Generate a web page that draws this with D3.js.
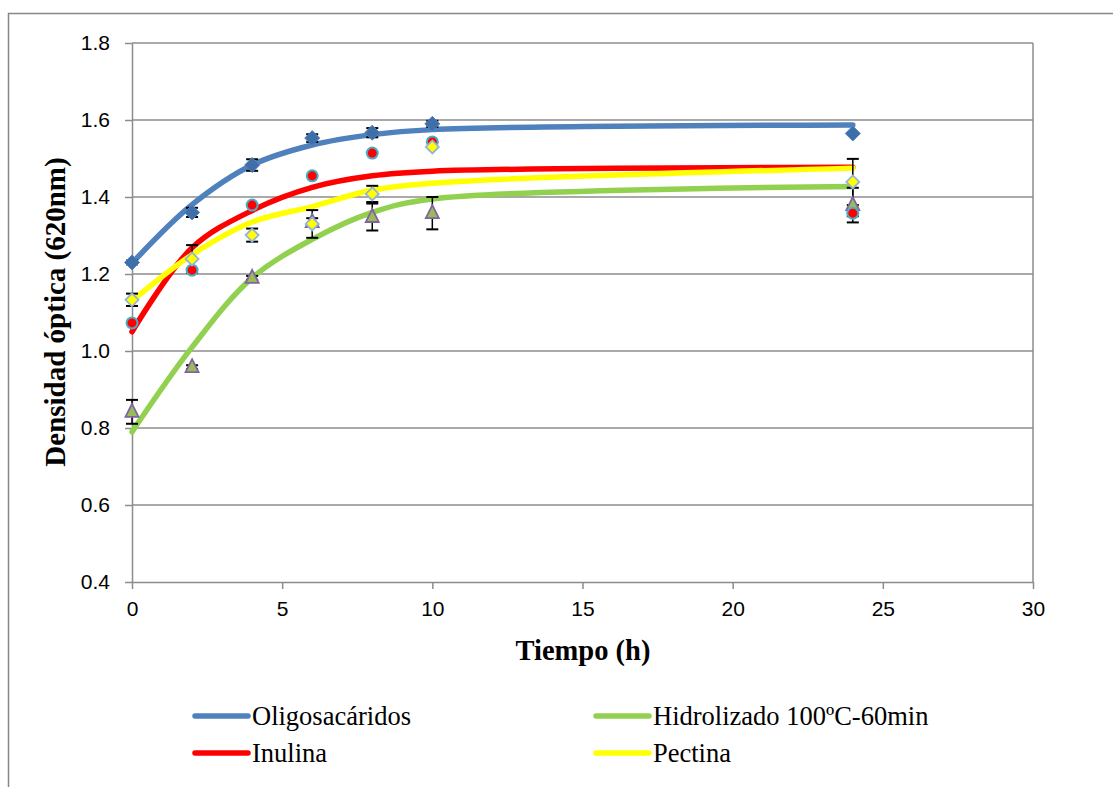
<!DOCTYPE html>
<html>
<head>
<meta charset="utf-8">
<script src="https://cdn.jsdelivr.net/npm/d3@7"></script>
<style>
  body { margin: 0; background: #fff; }
  svg text { fill: #000; }
</style>
</head>
<body>
<div id="chart"></div>
<script>
// Sample times (h)
const times = [0, 2, 4, 6, 8, 10, 24];

// Measured values and error bars
const oligo = [1.23, 1.36, 1.483, 1.553, 1.567, 1.59, 1.565];
const oligoErr = [0.005, 0.012, 0.015, 0.01, 0.012, 0.008, 0];
const hidro = [0.842, 0.958, 1.19, 1.335, 1.348, 1.358, 1.379];
const hidroErr = [0.031, 0.005, 0.005, 0.01, 0.035, 0.042, 0.045];
const inulina = [1.073, 1.21, 1.379, 1.455, 1.514, 1.543, 1.358];
const inulinaErr = [0, 0, 0, 0, 0, 0, 0.008];
const pectina = [1.133, 1.239, 1.301, 1.33, 1.408, 1.53, 1.439];
const pectinaErr = [0.016, 0.036, 0.017, 0.036, 0.021, 0, 0.06];

// Fitted curves
const oligoFit = [1.228, 1.38, 1.483, 1.535, 1.562, 1.575, 1.587];
const hidroFit = [0.79, 1.01, 1.19, 1.29, 1.36, 1.395, 1.427];
const inulinaFit = [1.05, 1.268, 1.365, 1.425, 1.455, 1.467, 1.477];
const pectinaFit = [1.13, 1.25, 1.335, 1.375, 1.418, 1.436, 1.475];

const seriesNames = ["Oligosacáridos", "Hidrolizado 100ºC-60min", "Inulina", "Pectina"];
const xTicks = [0, 5, 10, 15, 20, 25, 30];
const yTicks = [0.4, 0.6, 0.8, 1.0, 1.2, 1.4, 1.6, 1.8];

const series = [
    { name: seriesNames[0], vals: oligo, err: oligoErr, fit: oligoFit, color: "#4f81bd", marker: "diamond" },
    { name: seriesNames[1], vals: hidro, err: hidroErr, fit: hidroFit, color: "#92d050", marker: "triangle" },
    { name: seriesNames[2], vals: inulina, err: inulinaErr, fit: inulinaFit, color: "#ff0000", marker: "circle" },
    { name: seriesNames[3], vals: pectina, err: pectinaErr, fit: pectinaFit, color: "#ffff00", marker: "odiamond" }
];

const width = 1113, height = 787;
const margin = { top: 43, right: 80, bottom: 205, left: 132 };
const plotW = 1033 - margin.left;
const plotH = 582 - margin.top;

const svg = d3.select("#chart")
    .append("svg")
    .attr("width", width)
    .attr("height", height);

// outer chart border
svg.append("rect")
    .attr("x", 8.5).attr("y", 13.5)
    .attr("width", 1120).attr("height", 800)
    .attr("fill", "none")
    .attr("stroke", "#868686")
    .attr("stroke-width", 1.5);

const g = svg.append("g")
    .attr("transform", `translate(${margin.left},${margin.top})`);

const x = d3.scaleLinear().domain([0, 30]).range([0, plotW]);
const y = d3.scaleLinear().domain([0.4, 1.8]).range([plotH, 0]);

// gridlines
g.selectAll(".grid")
    .data(yTicks.slice(1))
    .enter()
    .append("line")
    .attr("x1", 0).attr("x2", plotW)
    .attr("y1", d => y(d)).attr("y2", d => y(d))
    .attr("stroke", "#8c8c8c")
    .attr("stroke-width", 1.5);

// right border of plot area
g.append("line")
    .attr("x1", plotW).attr("x2", plotW)
    .attr("y1", 0).attr("y2", plotH)
    .attr("stroke", "#8c8c8c")
    .attr("stroke-width", 1.5);

// axes
const xAxis = g.append("g")
    .attr("transform", `translate(0,${plotH})`)
    .call(d3.axisBottom(x).tickValues(xTicks).tickSize(7).tickSizeOuter(0).tickPadding(12));
const yAxis = g.append("g")
    .call(d3.axisLeft(y).tickValues(yTicks).tickFormat(d3.format(".1f")).tickSize(7).tickSizeOuter(0).tickPadding(15));

[xAxis, yAxis].forEach(a => {
    a.selectAll("path, line").attr("stroke", "#8c8c8c").attr("stroke-width", 1.5);
    a.selectAll("text")
        .style("font-family", "'Liberation Sans', Arial, sans-serif")
        .style("font-size", "21px")
        .style("fill", "#000");
});

// fitted curves
const line = d3.line()
    .x((d, i) => x(times[i]))
    .y(d => y(d))
    .curve(d3.curveCatmullRom.alpha(0.5));

series.forEach(s => {
    g.append("path")
        .datum(s.fit)
        .attr("d", line)
        .attr("fill", "none")
        .attr("stroke", s.color)
        .attr("stroke-width", 5.5)
        .attr("stroke-linecap", "round");
});

// error bars
series.forEach(s => {
    const eb = g.append("g");
    s.vals.forEach((v, i) => {
        const e = s.err[i];
        if (!e) return;
        const cx = x(times[i]);
        eb.append("line")
            .attr("x1", cx).attr("x2", cx)
            .attr("y1", y(v - e)).attr("y2", y(v + e))
            .attr("stroke", "#000").attr("stroke-width", 1.5);
        [v - e, v + e].forEach(t => {
            eb.append("line")
                .attr("x1", cx - 6).attr("x2", cx + 6)
                .attr("y1", y(t)).attr("y2", y(t))
                .attr("stroke", "#000").attr("stroke-width", 2);
        });
    });
});

// markers
function drawMarker(sel, type) {
    if (type === "diamond") {
        sel.append("path").attr("d", "M0,-7.5L7.5,0L0,7.5L-7.5,0Z")
            .attr("fill", "#3f6fa8").attr("stroke", "#4f81bd").attr("stroke-width", 1);
    } else if (type === "triangle") {
        sel.append("path").attr("d", "M0,-8L6.5,5L-6.5,5Z")
            .attr("fill", "#9bbb59").attr("stroke", "#8064a2").attr("stroke-width", 1.8);
    } else if (type === "circle") {
        sel.append("circle").attr("r", 5.5)
            .attr("fill", "#ff0000").attr("stroke", "#4bacc6").attr("stroke-width", 2);
    } else {
        sel.append("path").attr("d", "M0,-6.5L6.5,0L0,6.5L-6.5,0Z")
            .attr("fill", "#ffff00").attr("stroke", "#95b3d7").attr("stroke-width", 1.8);
    }
}

series.forEach(s => {
    s.vals.forEach((v, i) => {
        const m = g.append("g").attr("transform", `translate(${x(times[i])},${y(v)})`);
        drawMarker(m, s.marker);
    });
});

// axis titles
svg.append("text")
    .attr("x", 583).attr("y", 660)
    .attr("text-anchor", "middle")
    .style("font-family", "'Liberation Serif', 'Times New Roman', serif")
    .style("font-weight", "bold")
    .style("font-size", "28.5px")
    .text("Tiempo (h)");

svg.append("text")
    .attr("transform", "translate(55,312) rotate(-90)")
    .attr("text-anchor", "middle")
    .attr("dominant-baseline", "central")
    .style("font-family", "'Liberation Serif', 'Times New Roman', serif")
    .style("font-weight", "bold")
    .style("font-size", "29px")
    .text("Densidad óptica (620nm)");

// legend
const legendPos = [[193, 716], [594, 716], [193, 753], [594, 753]];
series.forEach((s, i) => {
    const [lx, ly] = legendPos[i];
    svg.append("line")
        .attr("x1", lx + 2).attr("x2", lx + 55)
        .attr("y1", ly).attr("y2", ly)
        .attr("stroke", s.color)
        .attr("stroke-width", 5.5)
        .attr("stroke-linecap", "round");
    svg.append("text")
        .attr("x", lx + 59).attr("y", ly + 9)
        .style("font-family", "'Liberation Serif', 'Times New Roman', serif")
        .style("font-size", "26.5px")
        .text(s.name);
});
</script>
</body>
</html>
